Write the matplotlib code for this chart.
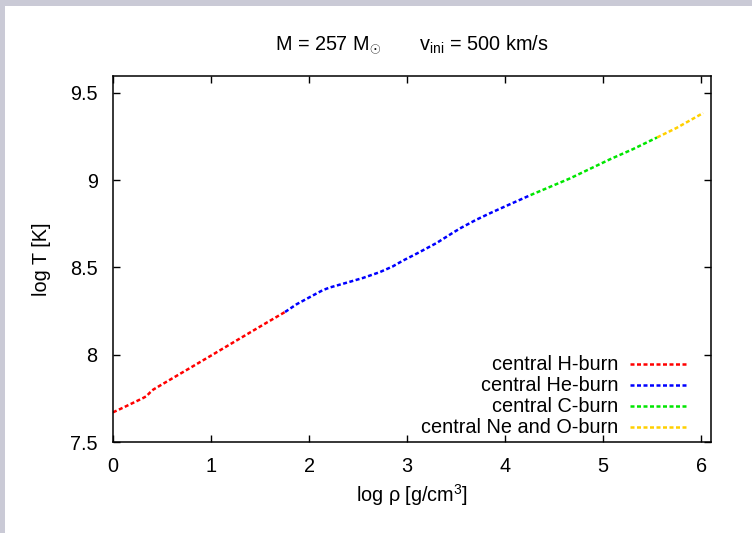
import matplotlib
matplotlib.use("Agg")
import matplotlib.pyplot as plt
from matplotlib.patches import Rectangle

plt.rcParams["font.family"] = ["Liberation Sans", "DejaVu Sans"]
plt.rcParams["mathtext.fontset"] = "custom"
plt.rcParams["mathtext.rm"] = "Liberation Sans"
plt.rcParams["mathtext.it"] = "Liberation Sans:italic"
plt.rcParams["mathtext.bf"] = "Liberation Sans:bold"

# Central density / temperature track, split by burning phase
h_rho = [0.00, 0.10, 0.20, 0.30, 0.34, 0.38, 0.41, 0.50, 0.77, 1.00, 1.30, 1.55, 1.755]
h_T = [7.67, 7.696, 7.723, 7.75, 7.762, 7.785, 7.80, 7.83, 7.919, 7.995, 8.095, 8.178, 8.245]

he_rho = [1.755, 1.875, 2.04, 2.14, 2.21, 2.385, 2.55, 2.72, 2.85, 2.96, 3.10,
          3.30, 3.47, 3.55, 3.70, 3.85, 4.00, 4.26]
he_T = [8.245, 8.29, 8.34, 8.37, 8.385, 8.413, 8.44, 8.473, 8.505, 8.54, 8.58,
        8.64, 8.70, 8.727, 8.772, 8.812, 8.85, 8.915]

c_rho = [4.26, 4.66, 5.07, 5.30, 5.55]
c_T = [8.915, 9.01, 9.12, 9.177, 9.245]

neo_rho = [5.55, 5.75, 6.02]
neo_T = [9.245, 9.30, 9.385]

phases = [
    ("central H-burn", h_rho, h_T, "#ff0000"),
    ("central He-burn", he_rho, he_T, "#0000ff"),
    ("central C-burn", c_rho, c_T, "#00e600"),
    ("central Ne and O-burn", neo_rho, neo_T, "#ffd000"),
]

x_ticks = [0, 1, 2, 3, 4, 5, 6]
y_ticks = [7.5, 8.0, 8.5, 9.0, 9.5]
y_tick_labels = ["7.5", "8", "8.5", "9", "9.5"]

W, H = 752, 533
FS = 14.3
fig = plt.figure(figsize=(W / 100, H / 100), dpi=100)
fig.patch.set_facecolor("white")

# slide border strips
fig.patches.append(Rectangle((0, 1 - 6 / H), 1, 6 / H, transform=fig.transFigure,
                             facecolor="#cacad6", edgecolor="none", zorder=0))
fig.patches.append(Rectangle((0, 0), 5 / W, 1, transform=fig.transFigure,
                             facecolor="#cacad6", edgecolor="none", zorder=0))

ax = fig.add_axes([113 / W, (H - 442) / H, (711 - 113) / W, (442 - 75.5) / H])

dash = (1.6, 1.0)
LW = 1.8
for label, xs, ys, col in phases:
    ax.plot(xs, ys, color=col, lw=LW, linestyle=(0, dash))

ax.set_xlim(0, 6.1)
ax.set_ylim(7.5, 9.6)
ax.set_xticks(x_ticks)
ax.set_yticks(y_ticks)
ax.set_yticklabels(y_tick_labels)
ax.tick_params(direction="in", length=5, width=1, top=True, right=True,
               labelsize=FS, colors="black")
ax.tick_params(axis="x", pad=11)
ax.tick_params(axis="y", pad=11)
for s in ax.spines.values():
    s.set_linewidth(1.1)

ax.set_xlabel(r"log ρ [g/cm$^3$]", fontsize=FS, labelpad=4)
ax.set_ylabel("log T [K]", fontsize=FS, labelpad=14)

fig.text(0.548, 1 - 45 / H,
         r"M = 257 M$_{\odot}$       v$_{\rm ini}$ = 500 km/s",
         ha="center", va="center", fontsize=FS)

# key, text right-aligned with the sample line to its right
rows = [0.2128, 0.1555, 0.0982, 0.0409]
for (label, xs, ys, col), yr in zip(phases, rows):
    ax.text(0.8445, yr, label, transform=ax.transAxes, ha="right", va="center",
            fontsize=FS)
    ax.plot([0.8645, 0.960], [yr, yr], transform=ax.transAxes, color=col,
            lw=LW, linestyle=(0, dash))

fig.savefig("out.png", dpi=100)
